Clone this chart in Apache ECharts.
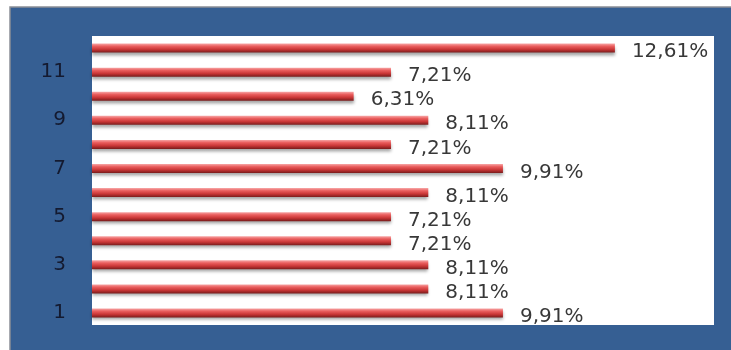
<!DOCTYPE html>
<html>
<head>
<meta charset="utf-8">
<style>
  html, body { margin: 0; padding: 0; background: #ffffff; }
  #chart { width: 731px; height: 350px; }
</style>
<script src="https://cdn.jsdelivr.net/npm/echarts@6/dist/echarts.min.js"></script>
</head>
<body>
<div id="chart"></div>
<script>
// Categories from bottom (1) to top (12)
const categories = ['1', '2', '3', '4', '5', '6', '7', '8', '9', '10', '11', '12'];
// Share per category, in percent
const shares = [9.91, 8.11, 8.11, 7.21, 7.21, 8.11, 9.91, 7.21, 8.11, 6.31, 7.21, 12.61];

const chart = echarts.init(document.getElementById('chart'), null, { renderer: 'canvas' });

// Cylinder-like shading across the bar thickness
const barFill = new echarts.graphic.LinearGradient(0, 0, 0, 1, [
  { offset: 0, color: '#f7a8a8' },
  { offset: 0.3, color: '#ea5e5e' },
  { offset: 0.65, color: '#c93636' },
  { offset: 1, color: '#7a1c1c' }
]);

chart.setOption({
  backgroundColor: '#ffffff',
  animation: false,
  graphic: [
    {
      type: 'rect',
      z: -10,
      shape: { x: 10, y: 7, width: 740, height: 360 },
      style: { fill: '#365f93', stroke: '#8a8f96', lineWidth: 1.5 }
    }
  ],
  grid: {
    left: 92, right: 17, top: 36, bottom: 25,
    show: true, backgroundColor: '#ffffff', borderWidth: 0
  },
  xAxis: {
    type: 'value', min: 0, max: 15, show: false
  },
  yAxis: {
    type: 'category',
    data: categories,
    axisLine: { show: false },
    axisTick: { show: false },
    splitLine: { show: false },
    axisLabel: {
      interval: 1,
      margin: 26,
      fontFamily: 'DejaVu Sans',
      fontSize: 20,
      color: '#141a30',
      padding: [4, 0, 0, 0]
    }
  },
  series: [{
    type: 'bar',
    data: shares,
    barWidth: 9,
    itemStyle: {
      color: barFill,
      shadowColor: 'rgba(0,0,0,0.35)',
      shadowBlur: 3,
      shadowOffsetY: 3
    },
    label: {
      show: true,
      position: 'right',
      distance: 17,
      offset: [0, 4],
      fontFamily: 'DejaVu Sans',
      fontSize: 20,
      color: '#383838',
      formatter: p => p.value.toFixed(2).replace('.', ',') + '%'
    }
  }]
});
</script>
</body>
</html>
